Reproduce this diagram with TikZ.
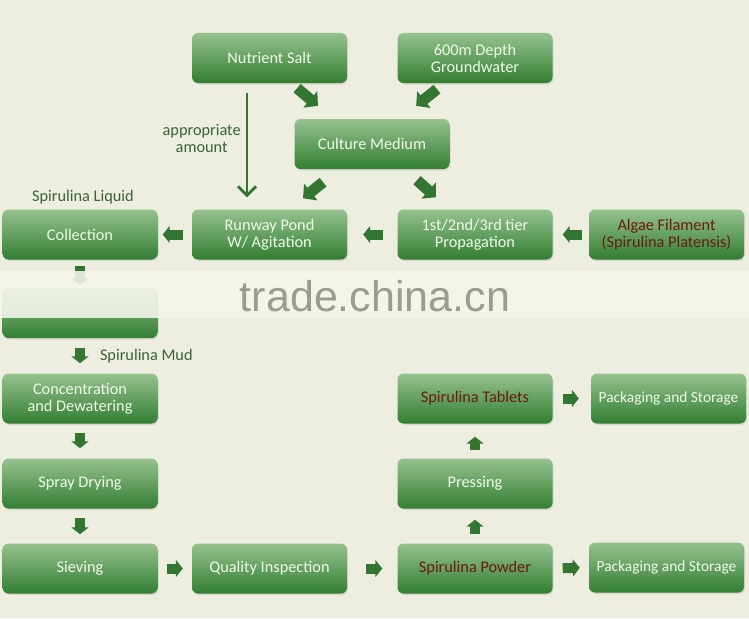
\documentclass[tikz,border=0pt]{standalone}
\usepackage{fontspec}
\setmainfont{Carlito}
\newfontfamily\wmfont{Liberation Sans}
\usetikzlibrary{arrows.meta,positioning,calc,shadows}

\definecolor{bgcream}{RGB}{237,237,224}
\definecolor{bandcol}{RGB}{246,246,236}
\definecolor{boxtop}{RGB}{150,194,142}
\definecolor{boxbot}{RGB}{50,126,50}
\definecolor{arrgreen}{RGB}{50,118,50}
\definecolor{lblgreen}{RGB}{60,98,56}
\definecolor{darkred}{RGB}{108,26,14}
\definecolor{boxtext}{RGB}{240,248,234}
\definecolor{wmgray}{RGB}{155,155,145}

\begin{document}
\begin{tikzpicture}[
			x=1pt, y=-1pt,
			font=\fontsize{16.3}{17}\selectfont,
			stage/.style={
				rectangle, rounded corners=6pt,
				top color=boxtop, bottom color=boxbot,
				drop shadow={opacity=0.2, shadow xshift=1pt, shadow yshift=-1.5pt},
				minimum width=155pt, minimum height=50pt,
				inner sep=2pt, align=center, text=boxtext
			},
			product/.style={stage, text=darkred},
			blk/.style={draw=arrgreen, line width=10pt,
				-{Triangle[width=17pt,length=7pt]}},
			dblk/.style={draw=arrgreen, line width=11pt,
				-{Triangle[width=21pt,length=10pt]}},
			feed/.style={draw=arrgreen, line width=2.7pt,
				-{Straight Barb[length=9pt,width=18pt]}},
			lbl/.style={text=lblgreen, align=center, inner sep=1pt}
			]
			
			\path[use as bounding box, fill=bgcream] (0,0) rectangle (749,618);
			
			%% ── Raw materials and culture ───────────────────────────────────────
			\node[stage] (nsalt)   at (269.5, 58) {Nutrient Salt};
			\node[stage] (ground)  at (475, 58)   {600m Depth\\Groundwater};
			\node[stage] (culture) at (372, 144)  {Culture Medium};
			
			%% ── Cultivation row ─────────────────────────────────────────────────
			\node[stage]   (collect) at (80, 234.5)    {Collection};
			\node[stage]   (runway)  at (269.5, 234.5) {Runway Pond\\W/ Agitation};
			\node[stage]   (prop)    at (475, 234.5)   {1st/2nd/3rd tier\\Propagation};
			\node[product] (algae)   at (666.5, 234.5) {Algae Filament\\(Spirulina Platensis)};
			
			%% ── Left column (processing) ────────────────────────────────────────
			\node[stage] (wash)  at (80, 313)   {};
			\node[stage] (conc)  at (80, 398.5) {Concentration\\and Dewatering};
			\node[stage] (spray) at (80, 483.5) {Spray Drying};
			\node[stage] (sieve) at (80, 568.5) {Sieving};
			
			%% ── Products ────────────────────────────────────────────────────────
			\node[stage]   (qi)     at (269.5, 568.5) {Quality Inspection};
			\node[product] (powder) at (475, 568.5)   {Spirulina Powder};
			\node[stage]   (press)  at (475, 483.5)   {Pressing};
			\node[product] (tablet) at (475, 398.5)   {Spirulina Tablets};
			\node[stage, font=\fontsize{15.4}{17}\selectfont] (pack1) at (668.5, 398.5) {Packaging and Storage};
			\node[stage, font=\fontsize{15.4}{17}\selectfont] (pack2) at (666.5, 567.5) {Packaging and Storage};
			
			%% ── Labels ──────────────────────────────────────────────────────────
			\node[lbl] (liquid) at (83, 197) {Spirulina Liquid};
			
			%% Nutrient salt dosed straight into the pond
			\draw[feed, shorten <=10pt, shorten >=12pt]
			([xshift=-22.5pt]nsalt.south) -- node[lbl, left=4pt, pos=0.437] (dose) {appropriate\\amount}
			([xshift=-22.5pt]runway.north);
			
			%% Into and out of the culture medium
			\draw[dblk, shorten <=7.7pt, shorten >=20pt] ([xshift=21.7pt]nsalt.south) -- ([xshift=-38.8pt]culture.north);
			\draw[dblk, shorten <=9.5pt, shorten >=20.7pt] ([xshift=-30.6pt]ground.south) -- ([xshift=28pt]culture.north);
			\draw[dblk, shorten <=20.8pt, shorten >=17.6pt] ([xshift=-32.7pt]culture.south) -- ([xshift=19.8pt]runway.north);
			\draw[dblk, shorten <=16.5pt, shorten >=18pt] ([xshift=32.7pt]culture.south) -- ([xshift=-25.6pt]prop.north);
			
			%% Cultivation row, right to left
			\draw[blk, shorten <=7pt, shorten >=10pt]  (algae.west)  -- (prop.east);
			\draw[blk, shorten <=14pt, shorten >=16pt] (prop.west)   -- (runway.east);
			\draw[blk, shorten <=9pt, shorten >=5pt]   (runway.west) -- (collect.east);
			
			%% Down the left column
			\draw[blk, shorten <=6pt, shorten >=3pt]   (collect.south) -- (wash.north);
			\draw[blk, shorten <=10pt, shorten >=10pt] (wash.south) -- node[lbl, right=14pt] (mud) {Spirulina Mud} (conc.north);
			\draw[blk, shorten <=9pt, shorten >=10pt]  (conc.south)  -- (spray.north);
			\draw[blk, shorten <=9pt, shorten >=9pt]   (spray.south) -- (sieve.north);
			
			%% Bottom row and product branch
			\draw[blk, shorten <=9pt, shorten >=9pt]   (sieve.east)   -- (qi.west);
			\draw[blk, shorten <=19pt, shorten >=15pt] (qi.east)      -- (powder.west);
			\draw[blk, shorten <=10pt, shorten >=9pt]  (powder.east)  -- (pack2.west);
			\draw[blk, shorten <=9pt, shorten >=11pt]  (powder.north) -- (press.south);
			\draw[blk, shorten <=8pt, shorten >=13pt]  (press.north)  -- (tablet.south);
			\draw[blk, shorten <=10pt, shorten >=12pt] (tablet.east)  -- (pack1.west);
			
			%% ── Watermark band ──────────────────────────────────────────────────
			\fill[bandcol, opacity=0.88] (0,271) rectangle (749,318);
			\node[text=wmgray, anchor=base, inner sep=0pt, font=\wmfont\fontsize{43}{43}\selectfont] (wmark) at (375,311) {trade.china.cn};
			
		\end{tikzpicture}
\end{document}
